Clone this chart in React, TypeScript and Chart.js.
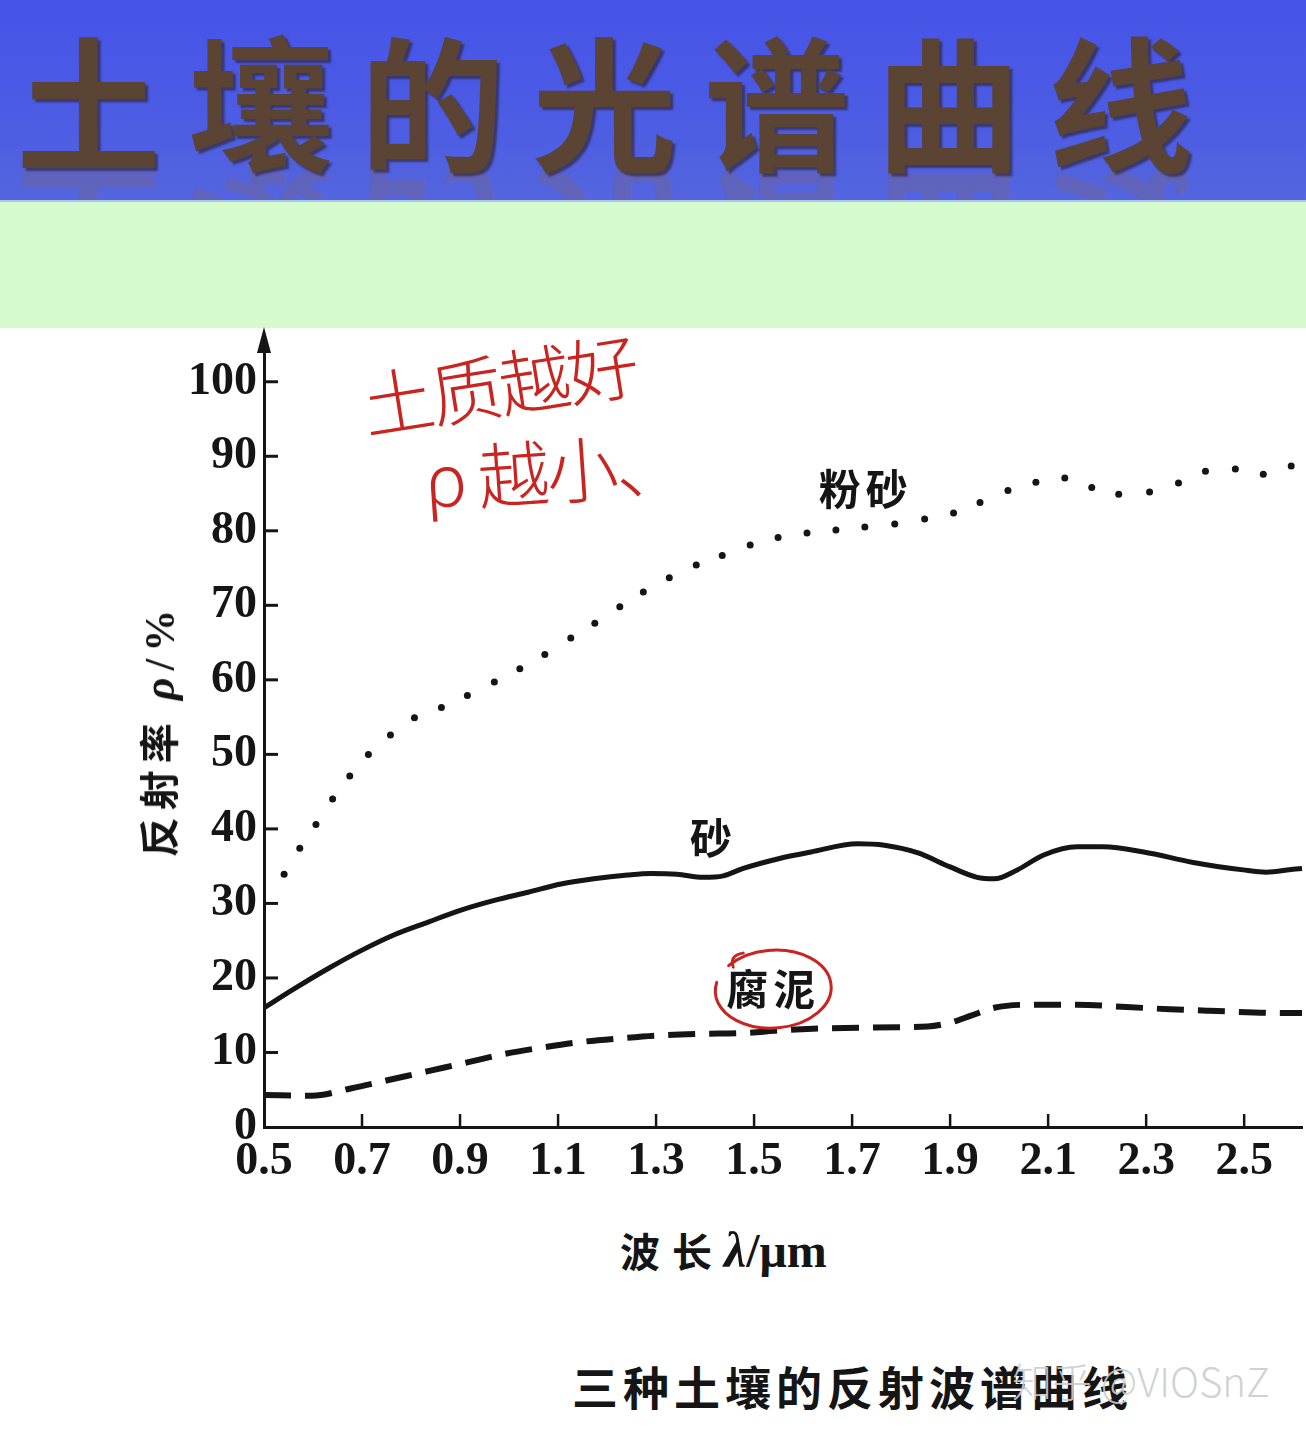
import React, { useEffect, useRef } from 'react';
import { Chart, registerables } from 'chart.js';

Chart.register(...registerables);

// ---- data ----
const xTickValues = [0.5, 0.7, 0.9, 1.1, 1.3, 1.5, 1.7, 1.9, 2.1, 2.3, 2.5];
const yTickValues = [0, 10, 20, 30, 40, 50, 60, 70, 80, 90, 100];

// 粉砂 (silt) – dotted curve, one value per printed dot
const siltX = [0.541, 0.573, 0.606, 0.640, 0.675, 0.713, 0.758, 0.807, 0.862, 0.915, 0.970, 1.022, 1.073, 1.126, 1.175, 1.226, 1.274, 1.327, 1.382, 1.435, 1.492, 1.549, 1.608, 1.667, 1.726, 1.787, 1.848, 1.907, 1.961, 2.018, 2.075, 2.134, 2.189, 2.244, 2.307, 2.366, 2.421, 2.482, 2.539, 2.596];
const siltY = [33.9, 37.4, 40.6, 44.0, 47.1, 50.0, 52.6, 54.9, 56.3, 57.9, 59.7, 61.5, 63.4, 65.6, 67.6, 69.8, 71.8, 73.7, 75.4, 76.7, 78.1, 79.1, 79.7, 80.1, 80.5, 80.9, 81.6, 82.4, 83.8, 85.4, 86.5, 87.1, 85.8, 84.9, 85.2, 86.4, 88.0, 88.3, 87.6, 88.7];

// 砂 (sand) – solid curve
const sandX = [0.5, 0.563, 0.632, 0.699, 0.766, 0.835, 0.902, 0.970, 1.039, 1.106, 1.173, 1.242, 1.289, 1.343, 1.396, 1.437, 1.478, 1.550, 1.616, 1.711, 1.766, 1.833, 1.900, 1.955, 1.990, 2.037, 2.091, 2.159, 2.213, 2.295, 2.396, 2.498, 2.545, 2.600, 2.618];
const sandY = [16.0, 18.6, 21.3, 23.7, 25.8, 27.5, 29.1, 30.4, 31.5, 32.6, 33.3, 33.8, 34.0, 33.9, 33.5, 33.7, 34.7, 36.0, 36.9, 38.0, 37.8, 36.8, 34.9, 33.5, 33.3, 34.5, 36.5, 37.6, 37.6, 36.9, 35.5, 34.5, 34.2, 34.6, 34.7];

// 腐泥 (muck) – dashed curve
const muckX = [0.5, 0.598, 0.679, 0.754, 0.835, 0.917, 0.990, 1.071, 1.146, 1.228, 1.309, 1.390, 1.478, 1.563, 1.685, 1.854, 1.900, 1.941, 1.990, 2.057, 2.159, 2.260, 2.348, 2.429, 2.579, 2.618];
const muckY = [4.3, 4.2, 5.2, 6.3, 7.5, 8.7, 9.8, 10.7, 11.4, 11.9, 12.3, 12.5, 12.6, 13.0, 13.3, 13.5, 14.0, 14.9, 16.0, 16.4, 16.4, 16.1, 15.8, 15.6, 15.3, 15.3];

// curve names written on the chart
const curveLabels = ['粉砂', '砂', '腐泥'];
const curveLabelX = [1.724, 1.413, 1.535];
const curveLabelY = [85.6, 38.8, 18.5];

const X_MIN = 0.5;
const X_MAX = 2.618;
const Y_MIN = 0;
const Y_MAX = 105.2;

const INK = '#151515';
const RED = '#c9241f';

const toPoints = (xs: number[], ys: number[]) => xs.map((x, i) => ({ x, y: ys[i] }));

const decorPlugin = {
  id: 'decor',
  afterDraw(chart: any) {
    const { ctx, chartArea, scales } = chart;
    const xs = scales.x;
    const ys = scales.y;
    ctx.save();
    ctx.strokeStyle = INK;
    ctx.fillStyle = INK;
    ctx.lineCap = 'butt';
    // inward ticks on y axis
    ctx.lineWidth = 3;
    yTickValues.forEach((v) => {
      if (v === Y_MIN) return;
      const py = ys.getPixelForValue(v);
      ctx.beginPath();
      ctx.moveTo(chartArea.left, py);
      ctx.lineTo(chartArea.left + 14, py);
      ctx.stroke();
    });
    // inward ticks on x axis
    ctx.lineWidth = 2.5;
    xTickValues.forEach((v) => {
      if (v === X_MIN) return;
      const px = xs.getPixelForValue(v);
      ctx.beginPath();
      ctx.moveTo(px, chartArea.bottom);
      ctx.lineTo(px, chartArea.bottom - 13);
      ctx.stroke();
    });
    // arrow head on the y axis
    const ax = chartArea.left;
    ctx.beginPath();
    ctx.moveTo(ax, chartArea.top - 16);
    ctx.lineTo(ax - 7, chartArea.top + 10);
    ctx.lineTo(ax + 7, chartArea.top + 10);
    ctx.closePath();
    ctx.fill();
    // curve names
    ctx.font = 'bold 42px "Noto Sans CJK SC", sans-serif';
    ctx.textAlign = 'center';
    ctx.textBaseline = 'middle';
    try { (ctx as any).letterSpacing = '5px'; } catch (e) { /* ignore */ }
    curveLabels.forEach((t, i) => {
      ctx.fillText(t, xs.getPixelForValue(curveLabelX[i]) + 2, ys.getPixelForValue(curveLabelY[i]));
    });
    // red hand-drawn circle round 腐泥
    const cx = xs.getPixelForValue(curveLabelX[2]);
    const cy = ys.getPixelForValue(curveLabelY[2]);
    ctx.strokeStyle = RED;
    ctx.lineWidth = 3;
    ctx.lineCap = 'round';
    ctx.beginPath();
    ctx.ellipse(cx + 2, cy, 58, 39, -0.06, (222 * Math.PI) / 180, (555 * Math.PI) / 180);
    ctx.stroke();
    ctx.beginPath();
    ctx.moveTo(cx - 38, cy - 22);
    ctx.quadraticCurveTo(cx - 42, cy - 34, cx - 28, cy - 36);
    ctx.stroke();
    ctx.restore();
  },
};

function SoilChart() {
  const ref = useRef<HTMLCanvasElement | null>(null);
  useEffect(() => {
    if (!ref.current) return;
    const chart = new Chart(ref.current, {
      type: 'line',
      data: {
        datasets: [
          {
            label: '粉砂',
            data: toPoints(siltX, siltY),
            showLine: false,
            pointRadius: 3.5,
            pointBackgroundColor: INK,
            pointBorderWidth: 0,
            borderColor: INK,
            clip: false,
          },
          {
            label: '砂',
            data: toPoints(sandX, sandY),
            borderColor: INK,
            borderWidth: 5,
            pointRadius: 0,
            cubicInterpolationMode: 'monotone',
            fill: false,
            clip: false,
          },
          {
            label: '腐泥',
            data: toPoints(muckX, muckY),
            borderColor: INK,
            borderWidth: 6,
            borderDash: [27, 14],
            pointRadius: 0,
            cubicInterpolationMode: 'monotone',
            fill: false,
            clip: false,
          },
        ],
      } as any,
      options: {
        responsive: false,
        animation: false,
        devicePixelRatio: 1,
        layout: { padding: { top: 43, left: 0, right: 0, bottom: 0 } },
        plugins: { legend: { display: false }, tooltip: { enabled: false } },
        scales: {
          x: {
            type: 'linear',
            min: X_MIN,
            max: X_MAX,
            grid: { display: false, drawTicks: false },
            border: { display: true, color: INK, width: 3 },
            afterBuildTicks: (scale: any) => {
              scale.ticks = xTickValues.map((v) => ({ value: v }));
            },
            afterFit: (scale: any) => {
              scale.height = 83;
            },
            ticks: {
              autoSkip: false,
              maxRotation: 0,
              padding: 8,
              color: INK,
              font: { family: '"Liberation Serif", serif', size: 46, weight: 'bold' },
              callback: (v: any) => Number(v).toFixed(1),
            },
          },
          y: {
            type: 'linear',
            min: Y_MIN,
            max: Y_MAX,
            grid: { display: false, drawTicks: false },
            border: { display: true, color: INK, width: 3 },
            afterBuildTicks: (scale: any) => {
              scale.ticks = yTickValues.map((v) => ({ value: v }));
            },
            afterFit: (scale: any) => {
              scale.width = 264;
            },
            ticks: {
              autoSkip: false,
              padding: 7,
              color: INK,
              font: { family: '"Liberation Serif", serif', size: 46, weight: 'bold' },
              callback: (v: any) => String(v),
            },
          },
        },
      } as any,
      plugins: [decorPlugin],
    });
    return () => chart.destroy();
  }, []);
  return <canvas ref={ref} width={1306} height={910} style={{ position: 'absolute', left: 0, top: 300, width: 1306, height: 910 }} />;
}

const titleText = '土壤的光谱曲线';

export default function App() {
  const titleStyle: React.CSSProperties = {
    position: 'absolute',
    left: 16,
    top: 26,
    fontSize: 145,
    lineHeight: '145px',
    height: 145,
    fontWeight: 700,
    letterSpacing: 27,
    whiteSpace: 'nowrap',
    fontFamily: '"Noto Sans CJK SC", sans-serif',
  };
  return (
    <div style={{ position: 'absolute', left: 0, top: 0, width: 1306, height: 1434, overflow: 'hidden', background: '#ffffff', fontFamily: '"Noto Sans CJK SC", sans-serif' }}>
      {/* banner */}
      <div style={{ position: 'absolute', left: 0, top: 0, width: 1306, height: 200, overflow: 'hidden', background: 'linear-gradient(180deg, #4654e8 0%, #4c5ce4 60%, #5465de 100%)' }}>
        <div style={{ ...titleStyle, top: 168, color: 'rgba(120,100,130,0.4)', transform: 'scaleY(-1)' }}>{titleText}</div>
        <div style={{ ...titleStyle, color: '#5b4434', textShadow: '3px 3px 2px rgba(40,25,20,0.55)' }}>{titleText}</div>
      </div>
      <div style={{ position: 'absolute', left: 0, top: 200, width: 1306, height: 2, background: '#a8c4f0' }} />
      <div style={{ position: 'absolute', left: 0, top: 202, width: 1306, height: 126, background: '#d5fbcd' }} />

      <SoilChart />

      {/* axis titles */}
      <div style={{ position: 'absolute', left: 157, top: 730, transform: 'translate(-50%, -50%) rotate(-90deg)', whiteSpace: 'nowrap', fontSize: 40, fontWeight: 700, color: INK, letterSpacing: 7 }}>
        反射率 <span style={{ fontFamily: '"Liberation Serif", serif', fontStyle: 'italic', fontWeight: 700, fontSize: 44 }}>ρ</span><span style={{ fontFamily: '"Liberation Serif", serif', fontSize: 42 }}>/%</span>
      </div>
      <div style={{ position: 'absolute', left: 620, top: 1250, transform: 'translateY(-50%)', whiteSpace: 'nowrap', fontSize: 40, fontWeight: 700, color: INK, letterSpacing: 12 }}>
        波长<span style={{ fontFamily: '"Liberation Serif", serif', fontStyle: 'italic', fontWeight: 700, fontSize: 50, letterSpacing: 0 }}>λ</span><span style={{ fontFamily: '"Liberation Serif", serif', fontWeight: 700, fontSize: 48, letterSpacing: 0 }}>/μm</span>
      </div>

      {/* red handwritten notes */}
      <div style={{ position: 'absolute', left: 368, top: 366, whiteSpace: 'nowrap', fontSize: 72, lineHeight: '74px', fontWeight: 300, color: RED, transform: 'rotate(-9deg)', transformOrigin: 'left bottom', letterSpacing: -3 }}>
        土质越好
      </div>
      <div style={{ position: 'absolute', left: 426, top: 440, whiteSpace: 'nowrap', fontSize: 72, lineHeight: '74px', fontWeight: 300, color: RED, transform: 'rotate(-4deg)', transformOrigin: 'left bottom', letterSpacing: -3 }}>
        <span style={{ marginRight: 14 }}>ρ</span>越小、
      </div>

      {/* caption + watermark */}
      <div style={{ position: 'absolute', left: 572, top: 1385, transform: 'translateY(-50%)', whiteSpace: 'nowrap', fontSize: 46, fontWeight: 700, color: INK, letterSpacing: 5 }}>
        三种土壤的反射波谱曲线
      </div>
      <div style={{ position: 'absolute', left: 1012, top: 1380, transform: 'translateY(-50%)', whiteSpace: 'nowrap', fontSize: 40, fontWeight: 300, color: 'rgba(205,205,205,0.92)' }}>
        知乎 @VIOSnZ
      </div>
    </div>
  );
}
